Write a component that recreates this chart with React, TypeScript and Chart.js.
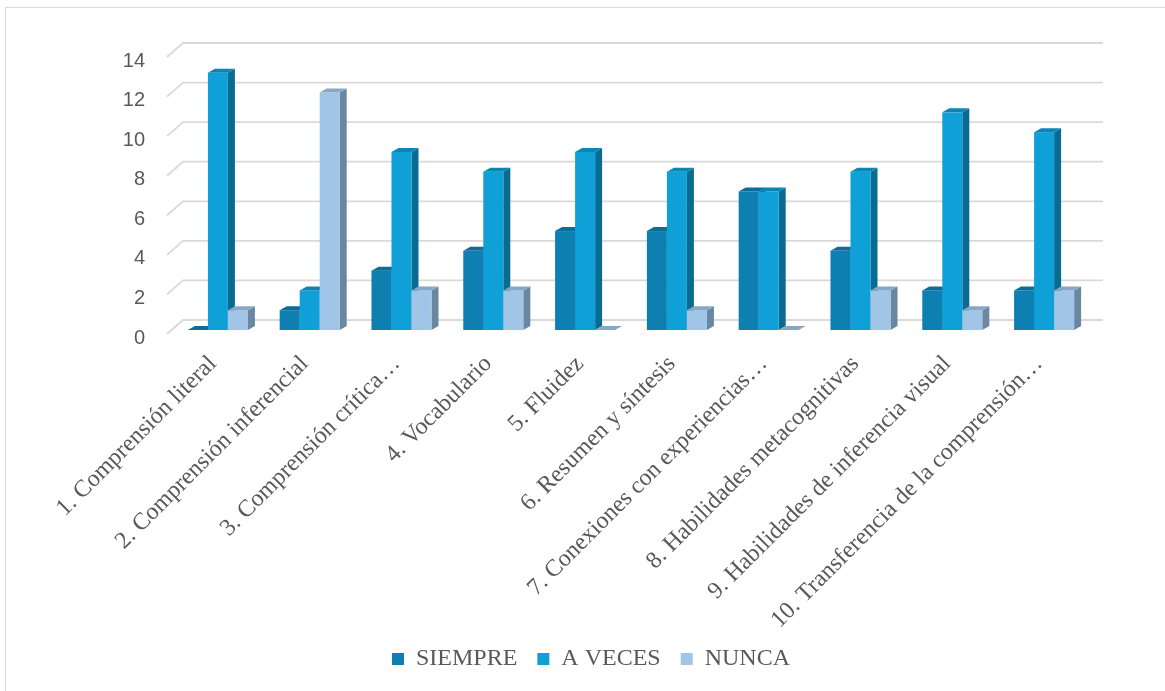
import React, { useEffect, useRef } from "react";
import { Chart, registerables } from "chart.js";

Chart.register(...registerables);

const categories = [
  "1. Comprensión literal",
  "2. Comprensión inferencial",
  "3. Comprensión crítica…",
  "4. Vocabulario",
  "5. Fluidez",
  "6. Resumen y síntesis",
  "7. Conexiones con experiencias…",
  "8. Habilidades metacognitivas",
  "9. Habilidades de inferencia visual",
  "10. Transferencia de la comprensión…",
];

const siempre = [0, 1, 3, 4, 5, 5, 7, 4, 2, 2];
const aVeces = [13, 2, 9, 8, 9, 8, 7, 8, 11, 10];
const nunca = [1, 12, 2, 2, 0, 1, 0, 2, 1, 2];

const seriesNames = ["SIEMPRE", "A VECES", "NUNCA"];
const yTicks = [0, 2, 4, 6, 8, 10, 12, 14];

const faceColors = [
  { front: "#0e7fb1", top: "#0b6d98", side: "#08597c" },
  { front: "#10a0d8", top: "#0c84b4", side: "#0a6b92" },
  { front: "#a0c5e6", top: "#86a8c6", side: "#6a87a2" },
];

const DEPTH_X = 7;
const DEPTH_Y = -4;

const threeD = {
  id: "threeD",
  beforeDatasetsDraw(chart: any) {
    const ctx = chart.ctx;
    const area = chart.chartArea;
    const yScale = chart.scales.y;
    ctx.save();
    ctx.strokeStyle = "#d9d9d9";
    ctx.lineWidth = 1.8;
    for (const v of yTicks) {
      const y = yScale.getPixelForValue(v);
      ctx.beginPath();
      ctx.moveTo(area.left - 5, y + 4);
      ctx.lineTo(area.left + 11, y - 10);
      ctx.lineTo(area.right + 13, y - 10);
      ctx.stroke();
    }
    const n = chart.data.labels.length;
    for (let j = 0; j < n; j++) {
      for (let i = 0; i < chart.data.datasets.length; i++) {
        const meta = chart.getDatasetMeta(i);
        const el: any = meta.data[j];
        if (!el) continue;
        const c = faceColors[i];
        const x0 = el.x - el.width / 2;
        const x1 = el.x + el.width / 2;
        const top = el.y;
        const base = el.base;
        ctx.fillStyle = c.side;
        ctx.beginPath();
        ctx.moveTo(x1, top);
        ctx.lineTo(x1 + DEPTH_X, top + DEPTH_Y);
        ctx.lineTo(x1 + DEPTH_X, base + DEPTH_Y);
        ctx.lineTo(x1, base);
        ctx.closePath();
        ctx.fill();
        ctx.fillStyle = c.front;
        ctx.fillRect(x0, top, x1 - x0, base - top);
        ctx.fillStyle = c.top;
        ctx.beginPath();
        ctx.moveTo(x0, top);
        ctx.lineTo(x0 + DEPTH_X, top + DEPTH_Y);
        ctx.lineTo(x1 + DEPTH_X, top + DEPTH_Y);
        ctx.lineTo(x1, top);
        ctx.closePath();
        ctx.fill();
      }
    }
    ctx.restore();
    return false;
  },
};

export default function App() {
  const ref = useRef<HTMLCanvasElement | null>(null);

  useEffect(() => {
    if (!ref.current) return;
    const chart = new Chart(ref.current, {
      type: "bar",
      data: {
        labels: categories,
        datasets: [siempre, aVeces, nunca].map((d, i) => ({
          label: seriesNames[i],
          data: d,
          backgroundColor: faceColors[i].front,
          borderWidth: 0,
          barPercentage: 1,
          categoryPercentage: 0.654,
        })),
      },
      options: {
        animation: false,
        responsive: true,
        maintainAspectRatio: false,
        layout: { padding: { left: 92, right: 75, top: 53, bottom: 10 } },
        plugins: {
          legend: {
            position: "bottom",
            labels: {
              boxWidth: 12,
              boxHeight: 12,
              padding: 20,
              color: "#595959",
              font: { family: "'Liberation Serif', 'Times New Roman', serif", size: 24 },
            },
          },
          tooltip: { enabled: false },
        },
        scales: {
          x: {
            grid: { display: false, drawTicks: false },
            border: { display: false },
            ticks: {
              autoSkip: false,
              maxRotation: 45,
              minRotation: 45,
              padding: 20,
              labelOffset: -5,
              color: "#595959",
              font: { family: "'Liberation Serif', 'Times New Roman', serif", size: 24 },
            },
            afterFit: (s: any) => {
              s.height = 297;
            },
          },
          y: {
            min: 0,
            max: 14,
            grid: { display: false, drawTicks: false },
            border: { display: false },
            ticks: {
              stepSize: 2,
              padding: 27,
              labelOffset: 8,
              color: "#595959",
              font: { family: "'Liberation Sans', Arial, sans-serif", size: 20 },
            },
            afterFit: (s: any) => {
              s.width = 80;
            },
          },
        },
      },
      plugins: [threeD],
    });
    return () => chart.destroy();
  }, []);

  return (
    <div
      style={{
        position: "fixed",
        left: 0,
        top: 0,
        width: 1165,
        height: 691,
        overflow: "hidden",
        background: "#ffffff",
      }}
    >
      <div
        style={{
          position: "absolute",
          left: 5,
          top: 7,
          width: 1200,
          height: 720,
          border: "1.5px solid #d9d9d9",
          pointerEvents: "none",
        }}
      />
      <div style={{ position: "absolute", left: 0, top: 0, width: 1165, height: 691 }}>
        <canvas ref={ref} />
      </div>
    </div>
  );
}
